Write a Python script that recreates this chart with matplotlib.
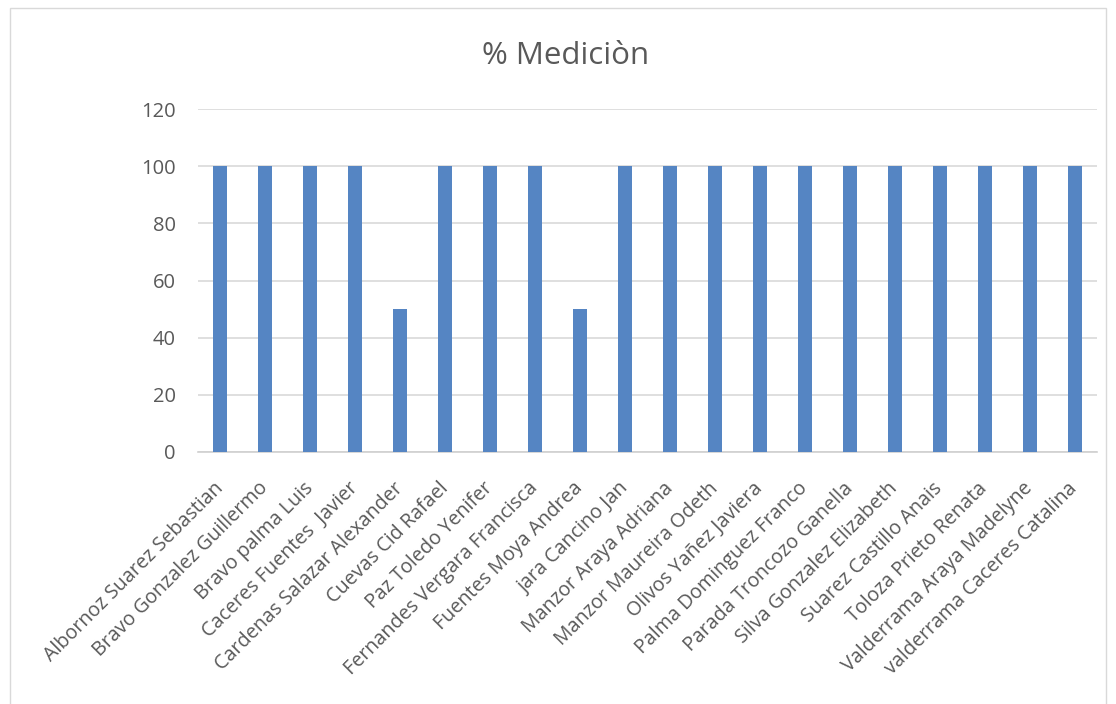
import matplotlib.pyplot as plt
from matplotlib.patches import Rectangle

names = [
    "Albornoz Suarez Sebastian", "Bravo Gonzalez Guillermo", "Bravo palma Luis",
    "Caceres Fuentes  Javier", "Cardenas Salazar Alexander", "Cuevas Cid Rafael",
    "Paz Toledo Yenifer", "Fernandes Vergara Francisca", "Fuentes Moya Andrea",
    "jara Cancino Jan", "Manzor Araya Adriana", "Manzor Maureira Odeth",
    "Olivos Yañez Javiera", "Palma Dominguez Franco", "Parada Troncozo Ganella",
    "Silva Gonzalez Elizabeth", "Suarez Castillo Anais", "Toloza Prieto Renata",
    "Valderrama Araya Madelyne", "valderrama Caceres Catalina",
]
medicion = [100, 100, 100, 100, 50, 100, 100, 100, 50, 100,
            100, 100, 100, 100, 100, 100, 100, 100, 100, 100]
yticks = [0, 20, 40, 60, 80, 100, 120]

txt = "#595959"
plt.rcParams['font.family'] = ['Open Sans', 'DejaVu Sans']

fig = plt.figure(figsize=(11.16, 7.04), dpi=100)
fig.patches.append(Rectangle((0.009, -0.01), 0.982, 0.998, transform=fig.transFigure,
                             fill=False, edgecolor="#d9d9d9", linewidth=1))
ax = fig.add_axes([0.1774, 0.358, 0.8056, 0.487])

x = range(len(names))
ax.bar(x, medicion, width=0.31, color="#5585c3", zorder=3)

ax.set_xlim(-0.5, len(names) - 0.5)
ax.set_ylim(0, 120)
ax.set_yticks(yticks)
ax.yaxis.grid(True, color="#d9d9d9", linewidth=1.2, zorder=0)
for s in ["top", "right", "left"]:
    ax.spines[s].set_visible(False)
ax.spines["bottom"].set_color("#d0d0d0")
ax.spines["bottom"].set_linewidth(1.2)
ax.tick_params(axis="y", length=0, colors=txt, labelsize=14.5, pad=16)
ax.tick_params(axis="x", length=0, colors=txt, labelsize=14.2, pad=24)
ax.set_xticks(list(x))
ax.set_xticklabels(names, rotation=45, ha="right", va="center",
                   rotation_mode="anchor", color=txt)

fig.text(0.507, 0.92, "% Mediciòn", ha="center", va="center", fontsize=22.5, color=txt)

fig.savefig("out.png", dpi=100)
